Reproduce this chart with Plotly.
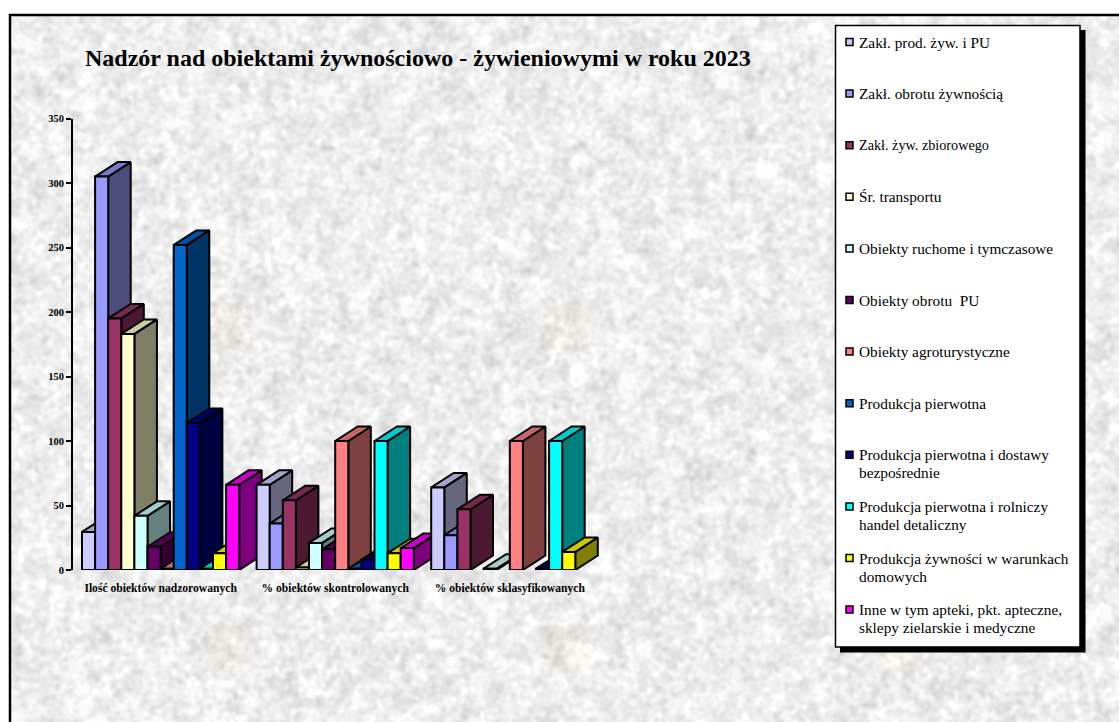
import base64
import struct
import zlib

import numpy as np
import plotly.graph_objects as go

# ---------- data ----------
categories = ["Ilość obiektów nadzorowanych", "% obiektów skontrolowanych", "% obiektów sklasyfikowanych"]
series_names = [
    "Zakł. prod. żyw. i PU",
    "Zakł. obrotu żywnością",
    "Zakł. żyw. zbiorowego",
    "Śr. transportu",
    "Obiekty ruchome i tymczasowe",
    "Obiekty obrotu  PU",
    "Obiekty agroturystyczne",
    "Produkcja pierwotna",
    "Produkcja pierwotna i dostawy<br>bezpośrednie",
    "Produkcja pierwotna i rolniczy<br>handel detaliczny",
    "Produkcja żywności w warunkach<br>domowych",
    "Inne w tym apteki, pkt. apteczne,<br>sklepy zielarskie i medyczne",
]
values_nadzorowane = [29.5, 305, 195, 183, 42, 18, 1, 252, 114, 1, 13, 66]
values_skontrolowane = [66, 36, 54, 2, 21, 16, 100, 1, 8, 100, 13, 17]
values_sklasyfikowane = [64, 27, 47, 0, 1, 0, 100, 0, 1, 100, 14, 0]
y_ticks = [0, 50, 100, 150, 200, 250, 300, 350]
series_colors = ["#CCCCFF", "#9999FF", "#993366", "#FFFFCC", "#CCFFFF", "#660066",
                 "#FF8080", "#0066CC", "#000080", "#00FFFF", "#FFFF00", "#FF00FF"]
all_values = [values_nadzorowane, values_skontrolowane, values_sklasyfikowane]

# ---------- layout constants (pixels of the 1119x722 page) ----------
W, H = 1119, 722
AXIS_X, PLOT_RIGHT, Y_ZERO, Y_TOP = 73, 620, 570, 118.5
Y_MAX = 350
BAR_PX, FIRST_BAR_PX, GROUP_PX = 13.1, 82, 174.6
DEPTH_X_PX, DEPTH_Y_PX = 22.5, 14.5
SERIF = "Liberation Serif"


def fx(px):
    return px / W


def fy(px):
    return 1 - px / H


GROUP_STEP = GROUP_PX / BAR_PX
DEPTH_X = DEPTH_X_PX / BAR_PX
DEPTH_Y = DEPTH_Y_PX * Y_MAX / (Y_ZERO - Y_TOP)
x_range = [(AXIS_X - FIRST_BAR_PX) / BAR_PX, (PLOT_RIGHT - FIRST_BAR_PX) / BAR_PX]


def shade(hex_color, k):
    r, g, b = (int(hex_color[i:i + 2], 16) for i in (1, 3, 5))
    return f"rgb({int(r * k)},{int(g * k)},{int(b * k)})"


# ---------- marbled paper background (decoration only, no data) ----------
def blur(a, sigma):
    fy_, fx_ = np.meshgrid(np.fft.fftfreq(a.shape[0]), np.fft.rfftfreq(a.shape[1]), indexing="ij")
    return np.fft.irfft2(np.fft.rfft2(a) * np.exp(-2 * (np.pi * sigma) ** 2 * (fx_ ** 2 + fy_ ** 2)), s=a.shape)


yy, xx = np.mgrid[0:H, 0:W]
grain = np.sin(xx * 12.9898 + yy * 78.233) * 43758.5453
grain = grain - np.floor(grain)
grain2 = np.sin(xx * 39.346 + yy * 11.135) * 24634.6345
grain2 = grain2 - np.floor(grain2)
fine = blur(grain, 2.0)
coarse = blur(grain2, 5.0)
tex = fine / fine.std() + 0.8 * coarse / coarse.std()
tex = (tex - tex.mean()) / tex.std()
gray = np.clip(238 + 8.0 * tex, 200, 253)
rgb = np.stack([gray, gray, gray], axis=-1)
for cx in (228, 565, 900):
    for cy in (325, 648):
        box = (np.abs(xx - cx) < 24) & (np.abs(yy - cy) < 24)
        rgb[box] = rgb[box] * np.array([1.0, 0.985, 0.965])
rgb[:16, :] = 255
rgb[:, :10] = 255
img = rgb.astype(np.uint8)


def png_uri(arr):
    def chunk(tag, data):
        body = tag + data
        return struct.pack(">I", len(data)) + body + struct.pack(">I", zlib.crc32(body))
    h, w, _ = arr.shape
    raw = b"".join(b"\x00" + arr[i].tobytes() for i in range(h))
    png = (b"\x89PNG\r\n\x1a\n" + chunk(b"IHDR", struct.pack(">IIBBBBB", w, h, 8, 2, 0, 0, 0))
           + chunk(b"IDAT", zlib.compress(raw, 9)) + chunk(b"IEND", b""))
    return "data:image/png;base64," + base64.b64encode(png).decode()


# ---------- bars as three-faced solids, drawn back-to-front ----------
fig = go.Figure()


def face(xs, ys, color, name):
    fig.add_trace(go.Scatter(x=xs, y=ys, mode="lines", fill="toself", fillcolor=color,
                             line=dict(color="black", width=2), cliponaxis=False,
                             showlegend=False, name=name, hoverinfo="name"))


for g, vals in enumerate(all_values):
    for s, v in enumerate(vals):
        if v == 0:
            continue
        x0 = g * GROUP_STEP + s
        x1 = x0 + 1
        c = series_colors[s]
        n = series_names[s].replace("<br>", " ")
        face([x1, x1 + DEPTH_X, x1 + DEPTH_X, x1, x1], [0, DEPTH_Y, v + DEPTH_Y, v, 0], shade(c, 0.5), n)
        face([x0, x1, x1 + DEPTH_X, x0 + DEPTH_X, x0], [v, v, v + DEPTH_Y, v + DEPTH_Y, v], shade(c, 0.8), n)
        face([x0, x1, x1, x0, x0], [0, 0, v, v, 0], c, n)

# ---------- legend box, frame, title ----------
shapes = [
    dict(type="line", xref="paper", yref="paper", x0=fx(9), x1=fx(W), y0=fy(15), y1=fy(15),
         line=dict(color="black", width=2.5)),
    dict(type="line", xref="paper", yref="paper", x0=fx(10), x1=fx(10), y0=fy(14), y1=fy(H),
         line=dict(color="black", width=2.5)),
    dict(type="rect", xref="paper", yref="paper", x0=fx(840), x1=fx(1085.5), y0=fy(30), y1=fy(652.5),
         fillcolor="black", line=dict(width=0)),
    dict(type="rect", xref="paper", yref="paper", x0=fx(835.5), x1=fx(1080), y0=fy(25.5), y1=fy(647),
         fillcolor="white", line=dict(color="black", width=1.5)),
]
annotations = [
    dict(text="<b>Nadzór nad obiektami żywnościowo - żywieniowymi w roku 2023</b>", xref="paper", yref="paper",
         x=fx(418), y=fy(58), xanchor="center", yanchor="middle", showarrow=False,
         font=dict(family=SERIF, size=24, color="black")),
]
for i, (name, color) in enumerate(zip(series_names, series_colors)):
    row_y = 42 + 51.6 * i
    shapes.append(dict(type="rect", xref="paper", yref="paper", x0=fx(846), x1=fx(853), y0=fy(row_y - 3.5),
                       y1=fy(row_y + 3.5), fillcolor=color, line=dict(color="black", width=1.5)))
    for k, line_text in enumerate(name.split("<br>")):
        annotations.append(dict(text=line_text, xref="paper", yref="paper", x=fx(859), y=fy(row_y + 18 * k),
                                xanchor="left", yanchor="middle", align="left", showarrow=False, xshift=-2,
                                font=dict(family=SERIF, size=14.2 if i == 2 else 15.3, color="black")))

tick_centres = [g * GROUP_STEP + 6 for g in range(len(categories))]

fig.update_layout(
    width=W, height=H, margin=dict(l=0, r=0, t=0, b=0, autoexpand=False),
    paper_bgcolor="white", plot_bgcolor="rgba(0,0,0,0)",
    showlegend=False, shapes=shapes, annotations=annotations,
    images=[dict(source=png_uri(img), xref="paper", yref="paper", x=0, y=1, sizex=1, sizey=1,
                 sizing="stretch", xanchor="left", yanchor="top", layer="below")],
    xaxis=dict(domain=[fx(AXIS_X), fx(PLOT_RIGHT)], range=x_range, showgrid=False, zeroline=False,
               showline=False, ticks="outside", ticklen=7, tickcolor="rgba(0,0,0,0)",
               tickvals=tick_centres, ticktext=categories,
               tickfont=dict(family=SERIF, size=11.6, color="black", weight=700), automargin=False, tickangle=0),
    yaxis=dict(domain=[fy(Y_ZERO), fy(Y_TOP)], range=[0, Y_MAX], showgrid=False, zeroline=False,
               showline=True, linecolor="black", linewidth=2, ticks="outside", ticklen=5, tickwidth=2,
               tickcolor="black", tickvals=y_ticks,
               tickfont=dict(family=SERIF, size=10.5, color="black", weight=700), automargin=False),
)

fig.write_html("out.html", config={"displayModeBar": False},
               post_script="document.body.style.margin='0';document.documentElement.style.overflow='hidden';")
